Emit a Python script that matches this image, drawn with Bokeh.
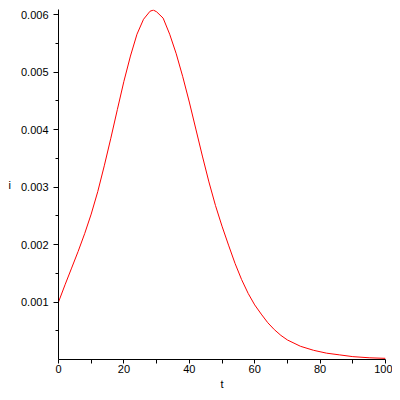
from bokeh.plotting import figure
from bokeh.models import Range1d, FixedTicker
from bokeh.embed import file_html
from bokeh.resources import INLINE

# Data
t_vals = [0, 2, 4, 6, 8, 10, 12, 14, 16, 18, 20, 22, 24, 26, 28, 29, 30, 32, 34, 36, 38,
          40, 42, 44, 46, 48, 50, 52, 54, 56, 58, 60, 62, 64, 66, 68, 70, 74, 78,
          82, 86, 90, 95, 100]
i_vals = [0.00100, 0.00130, 0.00159, 0.00188, 0.00219, 0.00253, 0.00292, 0.00337,
          0.00385, 0.00435, 0.00484, 0.00528, 0.00566, 0.00592, 0.00606, 0.00608,
          0.00605, 0.00594, 0.00566, 0.00532, 0.00492, 0.00448, 0.00401, 0.00354,
          0.00309, 0.00268, 0.00232, 0.00199, 0.00167, 0.00139, 0.00115, 0.00095,
          0.00079, 0.00064, 0.00052, 0.00042, 0.00034, 0.00023, 0.00016, 0.00011,
          0.00008, 0.00005, 0.00003, 0.00002]

x_major = [0, 20, 40, 60, 80, 100]
x_minor = [10, 30, 50, 70, 90]
y_major = [0.001, 0.002, 0.003, 0.004, 0.005, 0.006]
y_minor = [0.0005, 0.0015, 0.0025, 0.0035, 0.0045, 0.0055]
y_labels = {0.001: "0.001", 0.002: "0.002", 0.003: "0.003",
            0.004: "0.004", 0.005: "0.005", 0.006: "0.006"}

FONT = "Liberation Sans"

p = figure(width=392, height=398, output_backend="svg", toolbar_location=None,
           x_range=Range1d(0, 100), y_range=Range1d(0, 0.00609),
           min_border_left=58, min_border_right=7, min_border_top=9,
           min_border_bottom=39, x_axis_label="t", y_axis_label="i")
p.outline_line_color = None
p.xgrid.visible = False
p.ygrid.visible = False
p.background_fill_color = "white"
p.border_fill_color = "white"

p.line(t_vals, i_vals, line_color="#ff0000", line_width=1)

xa = p.xaxis[0]
xa.ticker = FixedTicker(ticks=x_major, minor_ticks=x_minor)
xa.major_tick_out = 4
xa.major_tick_in = 0
xa.minor_tick_out = 4
xa.minor_tick_in = 0
xa.major_label_standoff = 1
xa.major_label_text_font = FONT
xa.major_label_text_font_size = "11px"
xa.major_label_text_color = "black"
xa.axis_line_color = "black"
xa.axis_label_text_font = FONT
xa.axis_label_text_font_size = "11px"
xa.axis_label_text_font_style = "normal"
xa.axis_label_text_color = "black"
xa.axis_label_standoff = 2

ya = p.yaxis[0]
ya.ticker = FixedTicker(ticks=y_major, minor_ticks=y_minor)
ya.major_label_overrides = y_labels
ya.major_tick_out = 5
ya.major_tick_in = 0
ya.minor_tick_out = 3
ya.minor_tick_in = 0
ya.major_label_standoff = 5
ya.major_label_text_font = FONT
ya.major_label_text_font_size = "11px"
ya.major_label_text_color = "black"
ya.axis_line_color = "black"
ya.axis_label_text_font = FONT
ya.axis_label_text_font_size = "11px"
ya.axis_label_text_font_style = "normal"
ya.axis_label_text_color = "black"
ya.axis_label_orientation = "horizontal"
ya.axis_label_standoff = 7

open("out.html", "w").write(file_html(p, INLINE))
